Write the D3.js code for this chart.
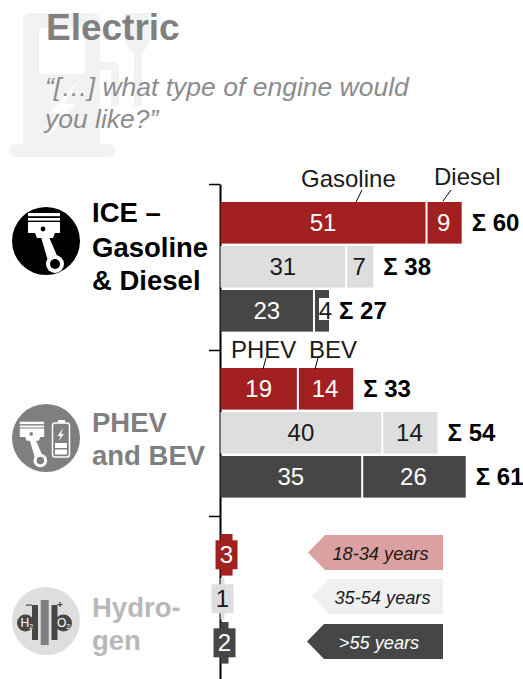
<!DOCTYPE html>
<html lang="en">
<head>
    <meta charset="UTF-8">
    <title>Electric</title>
    <script src="https://cdn.jsdelivr.net/npm/d3@7"></script>
    <style>
        html, body { margin: 0; padding: 0; background: #fff; }
        svg { display: block; }
        text { font-family: "Liberation Sans", Arial, sans-serif; }
    </style>
</head>
<body>
<svg id="chart" width="523" height="679"></svg>

<script>
    // 数据
    var ages = ["18-34 years", "35-54 years", ">55 years"];
    var groups = ["ICE", "PHEV", "Hydrogen"];
    var firstValues = [[51, 31, 23], [19, 40, 35], [3, 1, 2]];
    var secondValues = [[9, 7, 4], [14, 14, 26], [0, 0, 0]];
    var totals = [[60, 38, 27], [33, 54, 61], [null, null, null]];
    var segmentNames = [["Gasoline", "Diesel"], ["PHEV", "BEV"]];
    var barColors = ["#a32020", "#dedede", "#464646"];
    var labelColors = ["#fff", "#1a1a1a", "#fff"];
    var legendColors = ["#dba0a0", "#f0f0f0", "#464646"];

    var svg = d3.select("#chart");

    // 比例尺
    var x = d3.scaleLinear().domain([0, 60]).range([220.5, 461.7]);
    var yEdge = d3.scaleLinear().domain([0, 3]).range([184, 682]);
    var yGroup = d3.scaleBand().domain(groups).range([yEdge(0), yEdge(3)]);
    var yAge = d3.scaleBand().domain(ages).range([18, 147.6]).paddingInner(0.055).paddingOuter(0);

    /* -----------------背景图标----------------- */
    var pump = svg.append("g").attr("fill", "#f2f2f2");
    pump.append("rect").attr("x", 9).attr("y", 144).attr("width", 106).attr("height", 13).attr("rx", 6.5);
    pump.append("path").attr("d", "M23,144V20a7,7 0 0 1 7,-7H93a7,7 0 0 1 7,7V144Z");
    pump.append("path").attr("d", "M100,62H113a6,6 0 0 1 6,6V106H111V70H100Z");
    pump.append("path").attr("d", "M124,13H150V32C150,44 145,50 142,52V106H134V52C129,50 124,44 124,32Z");
    pump.append("rect").attr("x", 39).attr("y", 28).attr("width", 46).attr("height", 46).attr("rx", 4).attr("fill", "#fff");
    pump.append("path").attr("d", "M79,80L50,113H62L46,139L76,104H64Z").attr("fill", "#fff");

    /* -----------------标题----------------- */
    svg.append("text").attr("x", 46).attr("y", 40)
        .attr("font-size", 37).attr("font-weight", "bold").attr("fill", "#808080")
        .text("Electric");
    var subtitle = ["\u201c[\u2026] what type of engine would", "you like?\u201d"];
    svg.selectAll(".subtitle").data(subtitle).enter().append("text")
        .attr("class", "subtitle")
        .attr("x", 45)
        .attr("y", function (d, i) { return 96 + i * 32; })
        .attr("font-size", 26.5).attr("font-style", "italic").attr("fill", "#8c8c8c")
        .text(function (d) { return d; });

    /* -----------------坐标轴----------------- */
    var axis = d3.axisLeft(yEdge).tickValues([0, 1, 2]).tickSize(11).tickSizeOuter(0).tickFormat("");
    var axisG = svg.append("g").attr("transform", "translate(220,0)").call(axis);
    axisG.selectAll("path, line").attr("stroke", "#000").attr("stroke-width", 2);
    axisG.selectAll("line").attr("stroke-width", 1.5);

    /* -----------------柱形----------------- */
    groups.forEach(function (group, g) {
        var top = yGroup(group);
        ages.forEach(function (age, a) {
            var y0 = top + yAge(age);
            var h = yAge.bandwidth();
            var v1 = firstValues[g][a];
            var v2 = secondValues[g][a];
            var cy = y0 + h / 2;

            svg.append("rect")
                .attr("x", x(0)).attr("y", y0)
                .attr("width", x(v1) - x(0)).attr("height", h)
                .attr("fill", barColors[a]);

            if (v2 > 0) {
                svg.append("rect")
                    .attr("x", x(v1) + 2).attr("y", y0)
                    .attr("width", x(v1 + v2) - x(v1) - 2).attr("height", h)
                    .attr("fill", barColors[a]);
            }
            else {
                // 氢能的柱太窄，数字下面垫一块同色的底
                svg.append("rect")
                    .attr("x", x(v1 / 2) - 11).attr("y", cy - 14.5)
                    .attr("width", 22).attr("height", 29)
                    .attr("fill", barColors[a]);
            }

            svg.append("text")
                .attr("x", x(v1 / 2)).attr("y", cy + 8.5)
                .attr("text-anchor", "middle").attr("font-size", 24)
                .attr("fill", labelColors[a])
                .text(v1);

            if (v2 > 0) {
                var narrow = v2 === 4;
                if (narrow) {
                    svg.append("rect")
                        .attr("x", x(v1 + v2 / 2) - 2).attr("y", y0 + 8)
                        .attr("width", 11).attr("height", 22)
                        .attr("fill", "#fff");
                }
                svg.append("text")
                    .attr("x", x(v1 + v2 / 2) + (narrow ? 4.5 : 0)).attr("y", cy + 8.5)
                    .attr("text-anchor", "middle").attr("font-size", 24)
                    .attr("fill", narrow ? "#1a1a1a" : labelColors[a])
                    .text(v2);
            }

            if (totals[g][a] !== null) {
                svg.append("text")
                    .attr("x", x(totals[g][a]) + 10).attr("y", cy + 8.5)
                    .attr("font-size", 24).attr("font-weight", "bold").attr("fill", "#000")
                    .text("\u03a3 " + totals[g][a]);
            }
        });
    });

    /* -----------------分段名称----------------- */
    function segmentLabel(name, tx, ty, lx1, ly1, lx2, ly2) {
        svg.append("text").attr("x", tx).attr("y", ty)
            .attr("font-size", 24).attr("fill", "#1a1a1a").text(name);
        svg.append("line")
            .attr("x1", lx1).attr("y1", ly1).attr("x2", lx2).attr("y2", ly2)
            .attr("stroke", "#000").attr("stroke-width", 1);
    }
    segmentLabel(segmentNames[0][0], 301, 187, 356, 202, 362, 190);
    segmentLabel(segmentNames[0][1], 434, 185, 443, 201, 451, 190);
    segmentLabel(segmentNames[1][0], 231, 358, 263, 369, 266, 358);
    segmentLabel(segmentNames[1][1], 309, 358, 315, 369, 318, 358);

    /* -----------------图例----------------- */
    var legendY = [535, 579, 624];
    var legendLeft = [308, 312, 307];
    ages.forEach(function (age, a) {
        var l = legendLeft[a], t = legendY[a], w = 443 - l, h = 35;
        svg.append("path")
            .attr("d", "M" + l + "," + (t + h / 2) + "L" + (l + 17) + "," + t + "H" + (l + w) + "V" + (t + h) + "H" + (l + 17) + "Z")
            .attr("fill", legendColors[a]);
        svg.append("text")
            .attr("x", [380.5, 382.5, 379][a]).attr("y", t + 25)
            .attr("text-anchor", "middle")
            .attr("font-size", 18.2).attr("font-style", "italic")
            .attr("fill", a === 2 ? "#fff" : "#1a1a1a")
            .text(age);
    });

    /* -----------------左侧标签----------------- */
    var sideLabels = [
        {lines: ["ICE \u2013", "Gasoline", "& Diesel"], ys: [222, 257, 290], color: "#000"},
        {lines: ["PHEV", "and BEV"], ys: [432, 465], color: "#7f7f7f"},
        {lines: ["Hydro-", "gen"], ys: [617, 650], color: "#b8b8b8"}
    ];
    sideLabels.forEach(function (d) {
        d.lines.forEach(function (line, i) {
            svg.append("text").attr("x", 92).attr("y", d.ys[i])
                .attr("font-size", 27.5).attr("font-weight", "bold").attr("fill", d.color)
                .text(line);
        });
    });

    /* -----------------圆形图标----------------- */
    function piston(g, k, dx, dy, ink, bg) {
        var p = g.append("g").attr("transform", "translate(" + dx + "," + dy + ") scale(" + k + ")");
        p.append("rect").attr("x", -18).attr("y", -28).attr("width", 32).attr("height", 3.2).attr("fill", ink);
        p.append("rect").attr("x", -18).attr("y", -23).attr("width", 32).attr("height", 2.6).attr("fill", ink);
        p.append("path").attr("d", "M-18,-19H14V-8L9,-8L7,-3H-9L-11,-8H-18Z").attr("fill", ink);
        p.append("circle").attr("cx", -3).attr("cy", -12).attr("r", 2.4).attr("fill", bg);
        p.append("path").attr("d", "M-5,-4H3L12,17L2,20Z").attr("fill", ink);
        p.append("circle").attr("cx", 9).attr("cy", 23).attr("r", 9).attr("fill", ink);
        p.append("circle").attr("cx", 9).attr("cy", 23).attr("r", 5).attr("fill", bg);
    }

    var ice = svg.append("g").attr("transform", "translate(46,241)");
    ice.append("circle").attr("r", 34).attr("fill", "#000");
    piston(ice, 1, 0, 0, "#fff", "#000");

    var phev = svg.append("g").attr("transform", "translate(46,438)");
    phev.append("circle").attr("r", 34).attr("fill", "#7f7f7f");
    piston(phev, 0.76, -12.5, 5, "#fff", "#7f7f7f");
    phev.append("rect").attr("x", 12).attr("y", -18).attr("width", 7).attr("height", 3).attr("fill", "#fff");
    phev.append("rect").attr("x", 6.5).attr("y", -15).attr("width", 17).attr("height", 34).attr("rx", 2.5)
        .attr("fill", "none").attr("stroke", "#fff").attr("stroke-width", 1.5);
    phev.append("rect").attr("x", 9).attr("y", 5).attr("width", 12).attr("height", 5).attr("fill", "#fff");
    phev.append("rect").attr("x", 9).attr("y", 11.5).attr("width", 12).attr("height", 5).attr("fill", "#fff");
    phev.append("path").attr("d", "M17,-10L11.5,-2H14.5L12.5,3L18,-4H15Z").attr("fill", "#fff");

    var h2 = svg.append("g").attr("transform", "translate(46,621)");
    h2.append("circle").attr("r", 34).attr("fill", "#dedede");
    h2.append("rect").attr("x", -5.3).attr("y", -21).attr("width", 8).attr("height", 45).attr("fill", "#808080");
    h2.append("rect").attr("x", -14).attr("y", -16).attr("width", 6).attr("height", 35).attr("fill", "#464646");
    h2.append("rect").attr("x", 5.5).attr("y", -16).attr("width", 6).attr("height", 35).attr("fill", "#464646");
    h2.append("circle").attr("cx", -20.5).attr("cy", 2).attr("r", 8.5).attr("fill", "#464646");
    h2.append("circle").attr("cx", 17.5).attr("cy", 2).attr("r", 8.5).attr("fill", "#464646");
    h2.append("rect").attr("x", -20).attr("y", -16.5).attr("width", 6).attr("height", 1.2).attr("fill", "#464646");
    h2.append("rect").attr("x", 11.5).attr("y", -17).attr("width", 5).attr("height", 1.2).attr("fill", "#464646");
    h2.append("rect").attr("x", 13.4).attr("y", -19).attr("width", 1.2).attr("height", 5).attr("fill", "#464646");
    [["H", "2", -25.5], ["O", "2", 11]].forEach(function (d) {
        var t = h2.append("text").attr("x", d[2]).attr("y", 6).attr("font-size", 12).attr("fill", "#fff");
        t.append("tspan").text(d[0]);
        t.append("tspan").attr("font-size", 7).attr("dy", 2).text(d[1]);
    });
</script>
</body>
</html>
